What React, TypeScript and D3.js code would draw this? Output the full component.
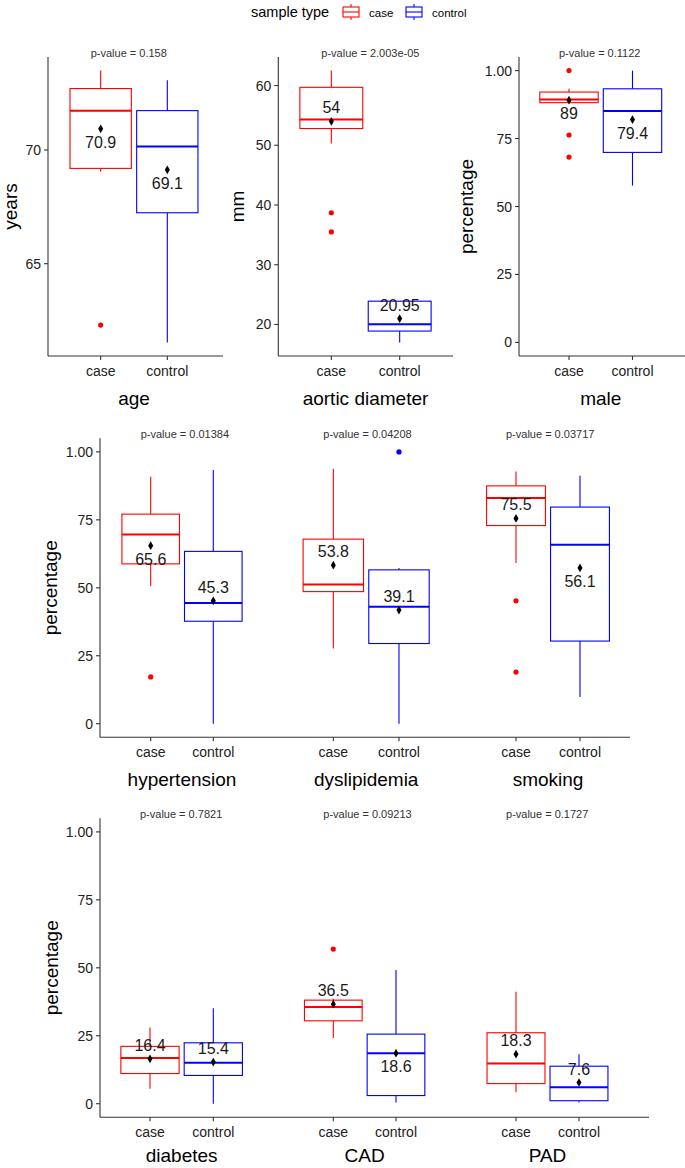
import React from "react";
import * as d3 from "d3";

// ---------- data ----------
const groups = ["case", "control"];
const variables = ["age", "aortic diameter", "male", "hypertension", "dyslipidemia", "smoking", "diabetes", "CAD", "PAD"];
const pValues = ["0.158", "2.003e-05", "0.1122", "0.01384", "0.04208", "0.03717", "0.7821", "0.09213", "0.1727"];

// [lower whisker, q1, median, q3, upper whisker]
const caseBox = [
  [69.04, 69.19, 71.72, 72.7, 73.49],
  [50.3, 52.8, 54.3, 59.7, 62.5],
  [0.88, 0.882, 0.894, 0.921, 0.933],
  [0.507, 0.588, 0.696, 0.771, 0.909],
  [0.277, 0.486, 0.512, 0.679, 0.938],
  [0.591, 0.729, 0.83, 0.875, 0.928],
  [0.055, 0.111, 0.168, 0.211, 0.28],
  [0.242, 0.305, 0.356, 0.381, 0.385],
  [0.042, 0.074, 0.148, 0.261, 0.412],
];
const controlBox = [
  [61.54, 67.24, 70.15, 71.73, 73.06],
  [17.0, 18.9, 20.05, 23.9, 23.9],
  [0.577, 0.699, 0.851, 0.933, 1.0],
  [0.0, 0.377, 0.444, 0.634, 0.933],
  [0.0, 0.295, 0.43, 0.566, 0.573],
  [0.098, 0.304, 0.658, 0.797, 0.912],
  [0.0, 0.104, 0.151, 0.224, 0.351],
  [0.004, 0.03, 0.186, 0.256, 0.492],
  [0.004, 0.011, 0.061, 0.138, 0.182],
];
const caseMeans = [70.93, 54.0, 0.891, 0.655, 0.583, 0.755, 0.165, 0.366, 0.182];
const controlMeans = [69.13, 21.0, 0.82, 0.452, 0.418, 0.573, 0.153, 0.186, 0.078];
const caseMeanLabels = ["70.9", "54", "89", "65.6", "53.8", "75.5", "16.4", "36.5", "18.3"];
const controlMeanLabels = ["69.1", "20.95", "79.4", "45.3", "39.1", "56.1", "15.4", "18.6", "7.6"];
const caseOutliers = [[62.3], [38.7, 35.5], [1.0, 0.763, 0.682], [0.172], [], [0.452, 0.19], [], [0.569], []];
const controlOutliers = [[], [], [], [], [1.0], [], [], [], []];
// label placement relative to the mean marker: 1 = below, -1 = above
const caseLabelSide = [1, -1, 1, 1, -1, -1, -1, -1, -1];
const controlLabelSide = [1, -1, 1, -1, -1, 1, -1, 1, -1];

const ageTicks = [65, 70];
const aorticTicks = [20, 30, 40, 50, 60];
const pctTicks = [0, 0.25, 0.5, 0.75, 1];
const pctTickLabels = ["0", "25", "50", "75", "1.00"];

// ---------- layout ----------
const FONT = "'Liberation Sans', Arial, Helvetica, sans-serif";
const COLORS = ["#FF0000", "#0000FF"];

type Panel = {
  vars: number[];
  ranges: [number, number][];
  axisX: number;
  lineEnd: number;
  top: number;
  bottom: number;
  yTitle: string;
  yTitleX: number;
  titleDy: number;
  kind: "age" | "aortic" | "pct";
};

const panels: Panel[] = [
  { vars: [0], ranges: [[48.7, 219.3]], axisX: 48, lineEnd: 223, top: 57, bottom: 356, yTitle: "years", yTitleX: 10, titleDy: 42, kind: "age" },
  { vars: [1], ranges: [[278, 453]], axisX: 278.3, lineEnd: 453, top: 57, bottom: 356, yTitle: "mm", yTitleX: 237, titleDy: 42, kind: "aortic" },
  { vars: [2], ranges: [[519.5, 682]], axisX: 519, lineEnd: 685, top: 57, bottom: 356, yTitle: "percentage", yTitleX: 466.7, titleDy: 42, kind: "pct" },
  { vars: [3, 4, 5], ranges: [[101.9, 262.1], [282.1, 450.2], [466.1, 629.9]], axisX: 100, lineEnd: 630, top: 438.3, bottom: 737.3, yTitle: "percentage", yTitleX: 50, titleDy: 42, kind: "pct" },
  { vars: [6, 7, 8], ranges: [[100.6, 262.7], [284.4, 444.9], [466.9, 628.1]], axisX: 100, lineEnd: 649, top: 818.3, bottom: 1117.3, yTitle: "percentage", yTitleX: 51.7, titleDy: 38.5, kind: "pct" },
];

function domainFor(kind: string, vars: number[]): [number, number] {
  let vals: number[];
  if (kind === "pct") vals = [0, 1];
  else {
    vals = [];
    vars.forEach((v) => {
      vals.push(...caseBox[v], ...controlBox[v], ...caseOutliers[v], ...controlOutliers[v]);
    });
  }
  const [lo, hi] = d3.extent(vals) as [number, number];
  const pad = (hi - lo) * 0.05;
  return [lo - pad, hi + pad];
}

function BoxGroup({ v, x, y }: { v: number; x: d3.ScalePoint<string>; y: d3.ScaleLinear<number, number> }) {
  const step = x.step();
  const bw = step * 0.92;
  const boxes = [caseBox[v], controlBox[v]];
  const means = [caseMeans[v], controlMeans[v]];
  const labels = [caseMeanLabels[v], controlMeanLabels[v]];
  const outs = [caseOutliers[v], controlOutliers[v]];
  const sides = [caseLabelSide[v], controlLabelSide[v]];
  return (
    <g>
      {groups.map((g, gi) => {
        const cx = x(g) as number;
        const [lo, q1, med, q3, hi] = boxes[gi];
        const col = COLORS[gi];
        return (
          <g key={g}>
            <line x1={cx} x2={cx} y1={y(q3)} y2={y(hi)} stroke={col} strokeWidth={1.1} />
            <line x1={cx} x2={cx} y1={y(q1)} y2={y(lo)} stroke={col} strokeWidth={1.1} />
            <rect x={cx - bw / 2} y={y(q3)} width={bw} height={y(q1) - y(q3)} fill="white" stroke={col} strokeWidth={1.1} />
            <line x1={cx - bw / 2} x2={cx + bw / 2} y1={y(med)} y2={y(med)} stroke={col} strokeWidth={2} />
            {outs[gi].map((o, oi) => (
              <circle key={oi} cx={cx} cy={y(o)} r={2.6} fill={col} />
            ))}
            <path d={d3.symbol(d3.symbolDiamond, 22)() as string} transform={`translate(${cx},${y(means[gi])})`} fill="black" />
            <text x={cx} y={y(means[gi]) + sides[gi] * 13.5} textAnchor="middle" dominantBaseline="central" fontSize={16} fill="#1a1a1a" fontFamily={FONT}>
              {labels[gi]}
            </text>
          </g>
        );
      })}
    </g>
  );
}

function PanelView({ p }: { p: Panel }) {
  const y = d3.scaleLinear().domain(domainFor(p.kind, p.vars)).range([p.bottom, p.top]);
  const ticks = p.kind === "age" ? ageTicks : p.kind === "aortic" ? aorticTicks : pctTicks;
  const tickLabels = p.kind === "pct" ? pctTickLabels : ticks.map((t) => String(t));
  const midY = (p.top + p.bottom) / 2;
  return (
    <g>
      {/* y axis */}
      <line x1={p.axisX} x2={p.axisX} y1={p.top} y2={p.bottom} stroke="#333" strokeWidth={1.1} />
      {ticks.map((t, i) => (
        <g key={t}>
          <line x1={p.axisX - 4} x2={p.axisX} y1={y(t)} y2={y(t)} stroke="#333" strokeWidth={1.1} />
          <text x={p.axisX - 7} y={y(t)} textAnchor="end" dominantBaseline="central" fontSize={14} fill="#222" fontFamily={FONT}>
            {tickLabels[i]}
          </text>
        </g>
      ))}
      <text transform={`translate(${p.yTitleX},${midY}) rotate(-90)`} textAnchor="middle" dominantBaseline="central" fontSize={19} fill="#000" fontFamily={FONT}>
        {p.yTitle}
      </text>
      {/* x axis */}
      <line x1={p.axisX} x2={p.lineEnd} y1={p.bottom} y2={p.bottom} stroke="#333" strokeWidth={1.1} />
      {p.vars.map((v, k) => {
        const x = d3.scalePoint<string>().domain(groups).range(p.ranges[k]).padding(0.78);
        const cCase = x("case") as number;
        const cCtrl = x("control") as number;
        return (
          <g key={v}>
            <text x={cCase - 10} y={p.top - 4} fontSize={11} fill="#333" fontFamily={FONT} dominantBaseline="central">
              {`p-value = ${pValues[v]}`}
            </text>
            <BoxGroup v={v} x={x} y={y} />
            {groups.map((g) => (
              <g key={g}>
                <line x1={x(g)} x2={x(g)} y1={p.bottom} y2={p.bottom + 4} stroke="#333" strokeWidth={1.1} />
                <text x={x(g)} y={p.bottom + 14.5} textAnchor="middle" dominantBaseline="central" fontSize={14} fill="#222" fontFamily={FONT}>
                  {g}
                </text>
              </g>
            ))}
            <text x={(cCase + cCtrl) / 2} y={p.bottom + p.titleDy} textAnchor="middle" dominantBaseline="central" fontSize={19} fill="#000" fontFamily={FONT}>
              {variables[v]}
            </text>
          </g>
        );
      })}
    </g>
  );
}

function LegendKey({ x, color }: { x: number; color: string }) {
  return (
    <g>
      <line x1={x + 8} x2={x + 8} y1={4} y2={7} stroke={color} strokeWidth={1.1} />
      <line x1={x + 8} x2={x + 8} y1={17} y2={20} stroke={color} strokeWidth={1.1} />
      <rect x={x} y={7} width={16} height={10} fill="white" stroke={color} strokeWidth={1.1} />
      <line x1={x} x2={x + 16} y1={12} y2={12} stroke={color} strokeWidth={1.1} />
    </g>
  );
}

export default function App() {
  return (
    <svg width={685} height={1168} style={{ position: "absolute", left: 0, top: 0, background: "white" }}>
      <rect width={685} height={1168} fill="white" />
      <text x={251} y={12} dominantBaseline="central" fontSize={14.5} fill="#000" fontFamily={FONT}>
        sample type
      </text>
      <LegendKey x={343} color={COLORS[0]} />
      <text x={369} y={12.5} dominantBaseline="central" fontSize={11.5} fill="#000" fontFamily={FONT}>
        {groups[0]}
      </text>
      <LegendKey x={406} color={COLORS[1]} />
      <text x={432} y={12.5} dominantBaseline="central" fontSize={11.5} fill="#000" fontFamily={FONT}>
        {groups[1]}
      </text>
      {panels.map((p, i) => (
        <PanelView key={i} p={p} />
      ))}
    </svg>
  );
}
